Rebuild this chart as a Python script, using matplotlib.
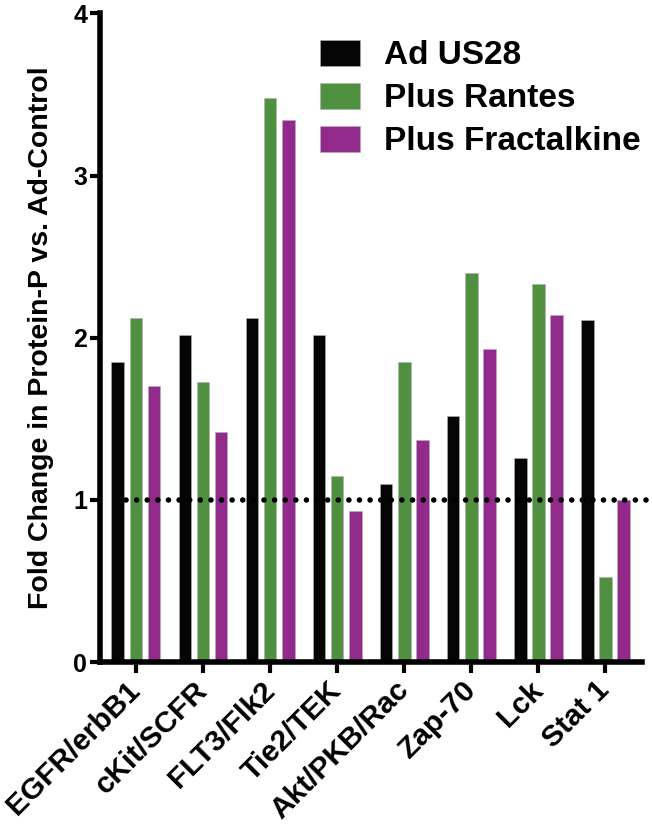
import numpy as np
import matplotlib.pyplot as plt

plt.rcParams['font.family'] = ['Liberation Sans', 'DejaVu Sans']
plt.rcParams['font.weight'] = 'bold'

# Data
categories = ['EGFR/erbB1', 'cKit/SCFR', 'FLT3/Flk2', 'Tie2/TEK',
              'Akt/PKB/Rac', 'Zap-70', 'Lck', 'Stat 1']
ad_us28 = [1.85, 2.02, 2.12, 2.02, 1.10, 1.52, 1.26, 2.11]
plus_rantes = [2.12, 1.73, 3.48, 1.15, 1.85, 2.40, 2.33, 0.525]
plus_fractalkine = [1.70, 1.42, 3.34, 0.93, 1.37, 1.93, 2.14, 1.0]

series = [('Ad US28', ad_us28, '#050505'),
          ('Plus Rantes', plus_rantes, '#4f9141'),
          ('Plus Fractalkine', plus_fractalkine, '#922a8c')]

fig = plt.figure(figsize=(6.52, 8.34), dpi=100)
ax = fig.add_axes([0.153, 0.206, 0.832, 0.778])

x = np.arange(len(categories))
step = 0.27
width = 0.19
for i, (name, vals, col) in enumerate(series):
    ax.bar(x + (i - 1) * step, vals, width, color=col, label=name,
           edgecolor='#b0b0b0', linewidth=0.4)

# dotted reference line at 1
ax.plot([-0.15, 7.72], [1, 1], color='black', linewidth=4,
        linestyle=(0, (0.01, 1.9)), dash_capstyle='round', clip_on=False,
        zorder=5)

ax.set_xlim(-0.54, 7.55)
ax.set_ylim(0, 4)
ax.set_yticks([0, 1, 2, 3, 4])
ax.set_xticks(x)
ax.set_xticklabels(categories, rotation=45, ha='right', va='center',
                   rotation_mode='anchor', fontsize=21.5, fontweight='bold')
ax.tick_params(axis='y', labelsize=18, width=3, length=7, pad=2)
ax.tick_params(axis='x', width=3, length=8, pad=9)

for s in ['top', 'right']:
    ax.spines[s].set_visible(False)
for s in ['left', 'bottom']:
    ax.spines[s].set_linewidth(4)

ax.set_ylabel('Fold Change in Protein-P vs. Ad-Control', fontsize=20.5,
              fontweight='bold', labelpad=14)

ax.legend(loc='upper right', bbox_to_anchor=(1.052, 1.005), frameon=False,
          fontsize=24, handlelength=1.2, handleheight=0.8,
          handletextpad=0.7, labelspacing=0.35)

fig.savefig('out.png', dpi=100)
